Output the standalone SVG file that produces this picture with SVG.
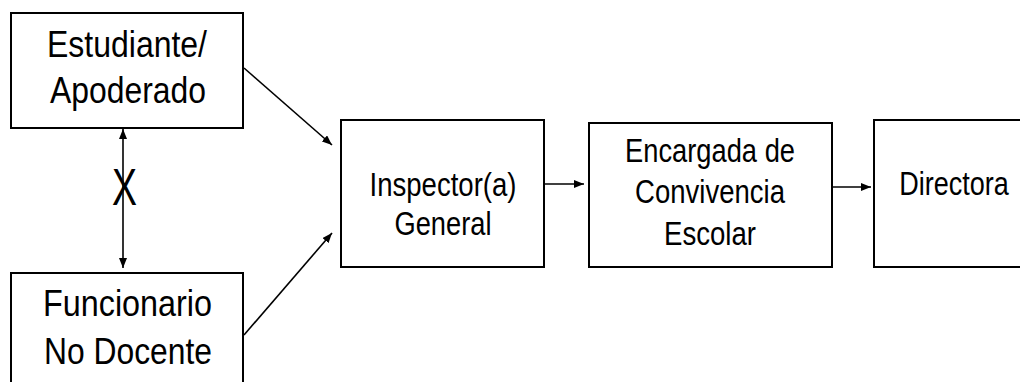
<svg xmlns="http://www.w3.org/2000/svg" width="1020" height="382" viewBox="0 0 1020 382">
<style>
.box{fill:#fff;stroke:#000;stroke-width:2}
.t{font-family:"Liberation Sans",Arial,sans-serif;fill:#000;text-anchor:middle}
.big{font-size:36px}
.mid{font-size:33px}
.con{stroke:#000;stroke-width:1.6;fill:none}
</style>
<defs>
<marker id="ah" markerUnits="userSpaceOnUse" markerWidth="10" markerHeight="8" refX="10" refY="4" orient="auto-start-reverse">
<path d="M0,0 L10,4 L0,8 Z" fill="#000"/>
</marker>
</defs>
<rect width="1020" height="382" fill="#fff"/>
<g id="connectors">
<line class="con" x1="123" y1="268" x2="123" y2="129" marker-end="url(#ah)" marker-start="url(#ah)"/>
<line class="con" x1="244" y1="68" x2="332" y2="145" marker-end="url(#ah)"/>
<line class="con" x1="244" y1="335" x2="332" y2="233" marker-end="url(#ah)"/>
<line class="con" x1="545" y1="184" x2="584" y2="184" marker-end="url(#ah)"/>
<line class="con" x1="833" y1="187" x2="871" y2="187" marker-end="url(#ah)"/>
<text class="t" x="124.5" y="205" font-size="51" textLength="25" lengthAdjust="spacingAndGlyphs">X</text>
</g>
<g id="estudiante">
<rect class="box" x="11" y="13" width="232" height="115"/>
<text class="t big" x="127" y="57" textLength="160" lengthAdjust="spacingAndGlyphs">Estudiante/</text>
<text class="t big" x="128" y="103" textLength="156" lengthAdjust="spacingAndGlyphs">Apoderado</text>
</g>
<g id="funcionario">
<path class="box" d="M11,383 V273 H243 V383"/>
<text class="t big" x="127.5" y="316" textLength="169" lengthAdjust="spacingAndGlyphs">Funcionario</text>
<text class="t big" x="128" y="364" textLength="168" lengthAdjust="spacingAndGlyphs">No Docente</text>
</g>
<g id="inspector">
<rect class="box" x="341" y="120" width="203" height="147"/>
<text class="t mid" x="443" y="196" textLength="147" lengthAdjust="spacingAndGlyphs">Inspector(a)</text>
<text class="t mid" x="443" y="235" textLength="97" lengthAdjust="spacingAndGlyphs">General</text>
</g>
<g id="encargada">
<rect class="box" x="589" y="123" width="243" height="144"/>
<text class="t mid" x="710" y="162" textLength="170" lengthAdjust="spacingAndGlyphs">Encargada de</text>
<text class="t mid" x="710" y="203" textLength="150" lengthAdjust="spacingAndGlyphs">Convivencia</text>
<text class="t mid" x="710" y="245" textLength="92" lengthAdjust="spacingAndGlyphs">Escolar</text>
</g>
<g id="directora">
<path class="box" d="M1020,120 H874 V267 H1020"/>
<text class="t mid" transform="translate(954,195) scale(0.82,1)" x="0" y="0">Directora</text>
</g>
</svg>
